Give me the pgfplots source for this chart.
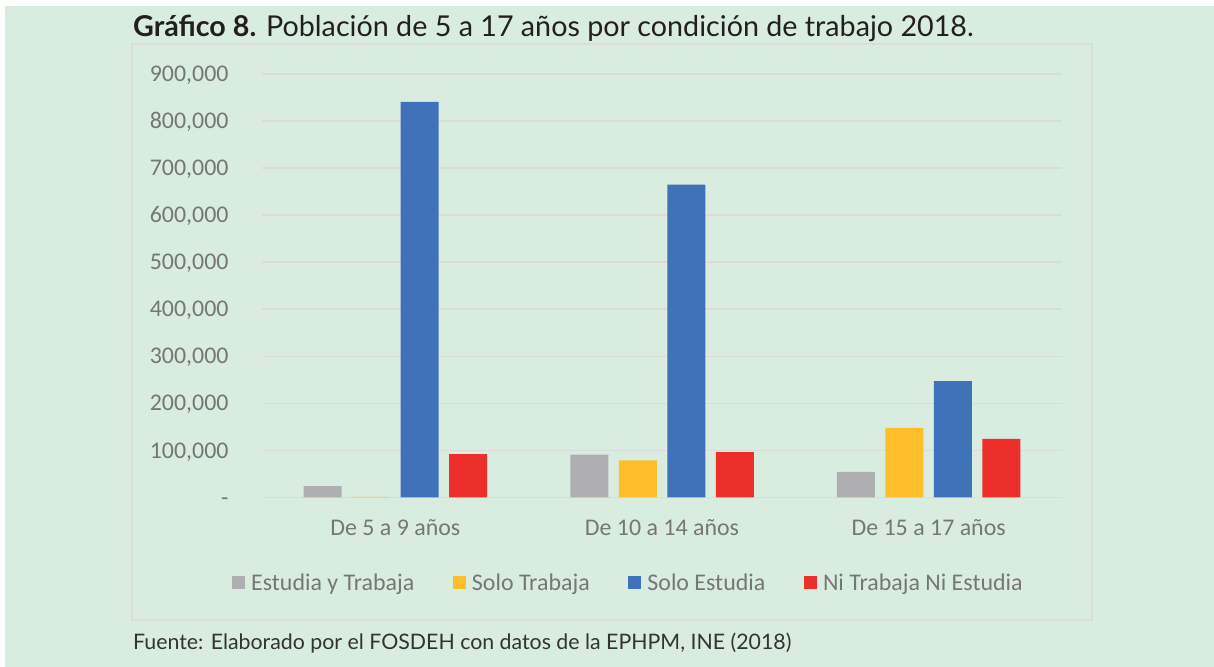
\documentclass[border=0pt]{standalone}
\usepackage{pgfplots}
\pgfplotsset{compat=1.18}
\usepackage{fontspec}
\setmainfont{Lato}
\newfontfamily\calibri{Carlito}
\definecolor{bg}{HTML}{D9ECE0}
\definecolor{framec}{HTML}{DCDCDC}
\definecolor{gridc}{HTML}{DDDADC}
\definecolor{tickc}{HTML}{767676}
\definecolor{cgray}{HTML}{AFAFB1}
\definecolor{cyellow}{HTML}{FDBE2C}
\definecolor{cblue}{HTML}{3F72B9}
\definecolor{cred}{HTML}{ED2F2C}
\definecolor{titlec}{HTML}{231F20}
\definecolor{footc}{HTML}{333333}
\begin{document}
\begin{tikzpicture}
\fill[white] (0,0) rectangle (1214bp,667bp);
\fill[bg] (5bp,0) rectangle (1214bp,661bp);
\draw[framec, line width=2bp] (131.5bp,622.5bp) rectangle (1092bp,46.5bp);
\node[anchor=base west, inner sep=0pt, text=titlec, font=\fontsize{28.8}{33}\selectfont] at (133bp,630bp) {\textbf{Gráfico 8.} Población de 5 a 17 años por condición de trabajo 2018.};
\node[anchor=base west, inner sep=0pt, text=footc, font=\fontsize{21.4}{25}\selectfont] at (133bp,18bp) {Fuente: Elaborado por el FOSDEH con datos de la EPHPM, INE (2018)};
\begin{axis}[
  at={(262bp,169.5bp)}, anchor=south west,
  scale only axis, width=800bp, height=423.5bp,
  xmin=-0.5, xmax=2.5, ymin=0, ymax=900000,
  ybar=10.5bp, bar width=38bp,
  axis line style={draw=none}, tick style={draw=none}, major tick length=0pt,
  ymajorgrids, grid style={gridc, line width=1.6bp},
  scaled y ticks=false,
  xtick={0,1,2},
  xticklabels={De 5 a 9 años, De 10 a 14 años, De 15 a 17 años},
  xticklabel style={font=\calibri\fontsize{24}{28}\selectfont, text=tickc, anchor=base, yshift=-38.5bp},
  ytick={0,100000,200000,300000,400000,500000,600000,700000,800000,900000},
  yticklabels={{-\hspace{12bp}},{100,000},{200,000},{300,000},{400,000},{500,000},{600,000},{700,000},{800,000},{900,000}},
  yticklabel style={font=\calibri\fontsize{24}{28}\selectfont, text=tickc, anchor=base east, xshift=-30bp, yshift=-7.6bp},
  legend columns=4,
  legend image code/.code={\fill[#1] (0bp,-6.5bp) rectangle (13bp,6.5bp);},
  legend style={at={(-0.0375,-0.2007)}, anchor=west, draw=none, fill=none, inner sep=0pt,
    font=\calibri\fontsize{24}{28}\selectfont, text=tickc,
    /tikz/every odd column/.append style={column sep=4bp},
    /tikz/every even column/.append style={column sep=36.7bp}},
]
\addplot[fill=cgray, draw=none] coordinates {(0,24000) (1,91000) (2,54500)};
\addplot[fill=cyellow, draw=none] coordinates {(0,1500) (1,79000) (2,148000)};
\addplot[fill=cblue, draw=none] coordinates {(0,841000) (1,665000) (2,247500)};
\addplot[fill=cred, draw=none] coordinates {(0,92000) (1,96300) (2,124500)};
\legend{Estudia y Trabaja, Solo Trabaja, Solo Estudia, Ni Trabaja Ni Estudia}
\end{axis}
\end{tikzpicture}
\end{document}
